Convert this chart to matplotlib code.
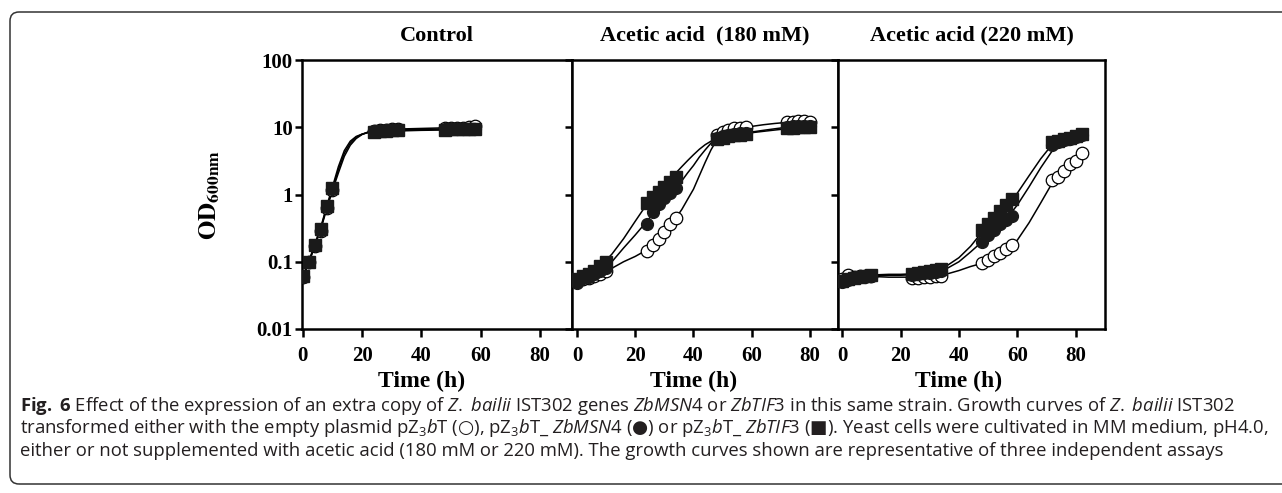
import matplotlib
matplotlib.use('Agg')
import matplotlib.pyplot as plt
from matplotlib.patches import FancyBboxPatch
from matplotlib.transforms import IdentityTransform

# ---- data (OD600, log scale) ----
# sampled points: open circles = pZ3bT, filled circles = ZbMSN4, squares = ZbTIF3
t_ctrl = [0, 2, 4, 6, 8, 10, 24, 26, 28, 30, 32, 48, 50, 52, 54, 56, 58]
op_ctrl = [0.060, 0.10, 0.17, 0.29, 0.63, 1.15, 8.9, 9.1, 9.2, 9.3, 9.3, 9.6, 9.7, 9.8, 9.9, 10.0, 10.6]
ci_ctrl = [0.060, 0.10, 0.18, 0.30, 0.65, 1.2, 8.7, 8.9, 9.0, 9.0, 9.1, 9.3, 9.3, 9.4, 9.4, 9.5, 9.5]
sq_ctrl = [0.062, 0.10, 0.18, 0.31, 0.68, 1.25, 8.6, 8.8, 8.9, 9.0, 9.0, 9.2, 9.3, 9.3, 9.4, 9.4, 9.5]

t_180 = [0, 2, 4, 6, 8, 10, 24, 26, 28, 30, 32, 34, 48, 50, 52, 54, 56, 58, 72, 74, 76, 78, 80]
op_180 = [0.052, 0.056, 0.058, 0.061, 0.066, 0.072, 0.145, 0.18, 0.22, 0.28, 0.36, 0.45,
          7.8, 8.6, 9.2, 9.6, 9.9, 10.1, 12.0, 11.8, 12.2, 12.2, 11.8]
ci_180 = [0.048, 0.058, 0.060, 0.065, 0.072, 0.080, 0.36, 0.55, 0.72, 0.88, 1.05, 1.25,
          7.0, 7.3, 7.6, 7.9, 8.1, 8.3, 10.2, 10.4, 10.5, 10.6, 10.6]
sq_180 = [0.055, 0.062, 0.066, 0.072, 0.085, 0.10, 0.75, 0.92, 1.1, 1.3, 1.55, 1.8,
          6.6, 7.0, 7.3, 7.6, 7.8, 8.0, 9.6, 9.8, 10.0, 10.2, 10.2]

t_220 = [0, 2, 4, 6, 8, 10, 24, 26, 28, 30, 32, 34, 48, 50, 52, 54, 56, 58, 72, 74, 76, 78, 80, 82]
op_220 = [0.055, 0.063, 0.060, 0.061, 0.062, 0.062, 0.058, 0.058, 0.059, 0.060, 0.061, 0.062,
          0.095, 0.105, 0.12, 0.135, 0.155, 0.18, 1.65, 1.8, 2.2, 2.8, 3.2, 4.1]
ci_220 = [0.050, 0.054, 0.057, 0.059, 0.060, 0.061, 0.063, 0.065, 0.067, 0.069, 0.071, 0.073,
          0.20, 0.25, 0.30, 0.36, 0.42, 0.48, 5.5, 6.0, 6.4, 6.8, 7.2, 7.6]
sq_220 = [0.052, 0.056, 0.058, 0.060, 0.062, 0.063, 0.066, 0.068, 0.070, 0.073, 0.076, 0.078,
          0.30, 0.37, 0.45, 0.56, 0.70, 0.87, 6.0, 6.3, 6.7, 7.0, 7.4, 7.9]

# fitted growth curves (read at fixed times)
tf_ctrl = [0, 2, 4, 6, 8, 10, 12, 14, 16, 18, 20, 22, 24, 28, 32, 40, 48, 58]
fop_ctrl = [0.060, 0.095, 0.17, 0.30, 0.60, 1.15, 2.1, 3.7, 5.4, 6.8, 7.8, 8.5, 8.9, 9.2, 9.4, 9.6, 9.8, 10.1]
fci_ctrl = [0.060, 0.10, 0.18, 0.31, 0.63, 1.2, 2.35, 4.1, 5.8, 7.1, 7.9, 8.4, 8.7, 9.0, 9.1, 9.3, 9.4, 9.6]
fsq_ctrl = [0.062, 0.10, 0.18, 0.32, 0.66, 1.3, 2.6, 4.5, 6.2, 7.3, 7.9, 8.3, 8.5, 8.7, 8.8, 9.0, 9.1, 9.3]

tf_180 = [0, 4, 8, 12, 16, 20, 24, 28, 32, 34, 36, 38, 40, 42, 44, 46, 48, 50, 52, 56, 60, 64, 68, 72, 76, 80]
fop_180 = [0.052, 0.057, 0.065, 0.080, 0.10, 0.12, 0.15, 0.21, 0.33, 0.45, 0.60, 0.85, 1.2, 1.9,
           3.0, 4.6, 6.5, 7.8, 8.6, 9.6, 10.3, 10.9, 11.4, 11.8, 12.0, 12.1]
fci_180 = [0.048, 0.058, 0.072, 0.10, 0.16, 0.25, 0.40, 0.65, 1.0, 1.3, 1.6, 2.1, 2.7, 3.6,
           4.6, 5.8, 6.8, 7.2, 7.5, 8.0, 8.5, 9.0, 9.5, 10.0, 10.3, 10.6]
fsq_180 = [0.055, 0.066, 0.085, 0.13, 0.22, 0.40, 0.72, 1.15, 1.7, 2.1, 2.6, 3.2, 3.9, 4.7,
           5.5, 6.2, 6.7, 7.0, 7.3, 7.8, 8.3, 8.7, 9.1, 9.5, 9.8, 10.1]

tf_220 = [0, 4, 8, 12, 16, 20, 24, 28, 32, 36, 40, 44, 48, 52, 56, 60, 64, 68, 72, 76, 80, 84]
fop_220 = [0.055, 0.060, 0.061, 0.060, 0.059, 0.059, 0.059, 0.060, 0.062, 0.066, 0.074, 0.085,
           0.095, 0.11, 0.14, 0.21, 0.38, 0.75, 1.5, 2.2, 3.0, 4.4]
fci_220 = [0.050, 0.056, 0.060, 0.062, 0.063, 0.063, 0.064, 0.066, 0.070, 0.080, 0.10, 0.14,
           0.20, 0.29, 0.42, 0.70, 1.3, 2.5, 4.5, 6.0, 6.9, 7.5]
fsq_220 = [0.052, 0.058, 0.062, 0.064, 0.065, 0.065, 0.066, 0.070, 0.076, 0.088, 0.115, 0.17,
           0.28, 0.45, 0.72, 1.05, 1.9, 3.4, 5.6, 6.7, 7.5, 8.2]

titles = ['Control', 'Acetic acid  (180 mM)', 'Acetic acid (220 mM)']
yticks = [0.01, 0.1, 1, 10, 100]
ytick_labels = ['0.01', '0.1', '1', '10', '100']
xticks = [0, 20, 40, 60, 80]

caption = [
    r"$\mathbf{Fig.}$ $\mathbf{6}$ Effect of the expression of an extra copy of $\mathit{Z.}$ $\mathit{bailii}$ IST302 genes "
    r"$\mathit{ZbMSN4}$ or $\mathit{ZbTIF3}$ in this same strain. Growth curves of $\mathit{Z.}$ $\mathit{bailii}$ IST302",
    r"transformed either with the empty plasmid pZ$_\mathrm{3}\mathit{b}$T ($\mathsf{○}$), pZ$_\mathrm{3}\mathit{b}$T_ "
    r"$\mathit{ZbMSN4}$ ($\mathsf{●}$) or pZ$_\mathrm{3}\mathit{b}$T_ $\mathit{ZbTIF3}$ ($\mathsf{■}$). "
    r"Yeast cells were cultivated in MM medium, pH4.0,",
    "either or not supplemented with acetic acid (180 mM or 220 mM). "
    "The growth curves shown are representative of three independent assays",
]

panels = [
    (t_ctrl, op_ctrl, ci_ctrl, sq_ctrl, tf_ctrl, fop_ctrl, fci_ctrl, fsq_ctrl),
    (t_180, op_180, ci_180, sq_180, tf_180, fop_180, fci_180, fsq_180),
    (t_220, op_220, ci_220, sq_220, tf_220, fop_220, fci_220, fsq_220),
]

# ---- styling ----
plt.rcParams['font.family'] = 'Liberation Serif'
plt.rcParams['font.weight'] = 'bold'
plt.rcParams['mathtext.fontset'] = 'custom'
plt.rcParams['mathtext.rm'] = 'Open Sans:style=normal:weight=normal'
plt.rcParams['mathtext.it'] = 'Open Sans:style=italic:weight=normal'
plt.rcParams['mathtext.bf'] = 'Open Sans:style=normal:weight=bold'
plt.rcParams['mathtext.sf'] = 'DejaVu Sans:style=normal:weight=normal'

W, H = 1282, 493
fig = plt.figure(figsize=(W / 100, H / 100), dpi=100)

# axes boxes in pixels (left, right); top 60, bottom 329
boxes = [(302, 572), (572, 838), (838, 1105)]
xlims = [(-0.3, 90.9), (-1.7, 89.6), (-1.4, 90.0)]
top, bottom = 60, 329

for i, (x0, x1) in enumerate(boxes):
    ax = fig.add_axes([x0 / W, (H - bottom) / H, (x1 - x0) / W, (bottom - top) / H])
    t, op, ci, sq, tf, fop, fci, fsq = panels[i]

    ax.plot(tf, fop, color='black', lw=1.1, zorder=2)
    ax.plot(tf, fci, color='black', lw=1.1, zorder=2)
    ax.plot(tf, fsq, color='black', lw=1.1, zorder=2)
    ax.plot(t, op, 'o', ms=9, mfc='white', mec='black', mew=0.9, ls='none', zorder=3)
    ax.plot(t, ci, 'o', ms=8.5, mfc='#1a1a1a', mec='#1a1a1a', ls='none', zorder=4)
    ax.plot(t, sq, 's', ms=8, mfc='#1a1a1a', mec='#1a1a1a', ls='none', zorder=5)

    ax.set_yscale('log')
    ax.set_ylim(0.01, 100)
    ax.set_xlim(*xlims[i])
    ax.set_xticks(xticks)
    ax.set_yticks(yticks)
    ax.minorticks_off()
    if i == 0:
        ax.set_yticklabels(ytick_labels)
    else:
        ax.set_yticklabels([])
    for s in ax.spines.values():
        s.set_linewidth(1.8)
    ax.tick_params(axis='x', direction='out', length=6, width=1.8, labelsize=15, pad=6)
    ax.tick_params(axis='y', direction='out', length=5, width=1.8, labelsize=15, pad=1.5)

    ax.set_title(titles[i], fontsize=16, fontweight='bold', pad=14)
    ax.set_xlabel('Time (h)', fontsize=17, fontweight='bold')
    xm = (40 - xlims[i][0]) / (xlims[i][1] - xlims[i][0])
    ax.xaxis.set_label_coords(xm, -0.155)
    if i == 0:
        ax.set_ylabel(r'$\mathbf{OD_{600nm}}$', fontsize=18, math_fontfamily='stix')
        ax.yaxis.label.set_va('center')
        ax.yaxis.set_label_coords((210 - x0) / (x1 - x0), 0.5)

# caption
for k, line in enumerate(caption):
    fig.text(20 / W, 1 - (406 + 22.3 * k) / H, line, fontsize=13.3, color='#231f20',
             family='Open Sans', fontweight='normal', ha='left', va='center',
             math_fontfamily='custom')

# rounded frame (open on the right)
frame = FancyBboxPatch((10, H - 484), 1320, 472, boxstyle='round,pad=0,rounding_size=9',
                       transform=IdentityTransform(), fill=False, ec='#333333', lw=1.1)
fig.add_artist(frame)

fig.savefig('out.png', dpi=100)
